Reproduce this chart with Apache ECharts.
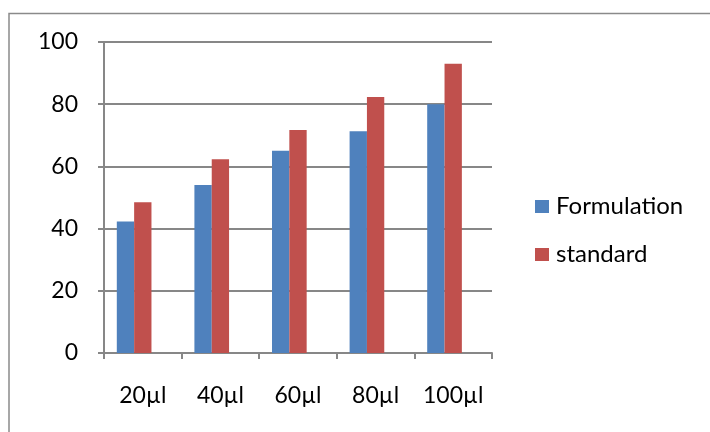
<!DOCTYPE html>
<html>
<head>
<meta charset="utf-8">
<script src="https://cdn.jsdelivr.net/npm/echarts@6/dist/echarts.min.js"></script>
<style>
  html, body { margin: 0; padding: 0; background: #ffffff; }
  #chart { width: 710px; height: 432px; }
</style>
</head>
<body>
<div id="chart"></div>
<script>
// Sample volumes on the category axis
const categories = ['20µl', '40µl', '60µl', '80µl', '100µl'];
// Measured values per volume
const formulation = [42.3, 54.0, 65.0, 71.3, 80.0];
const standard = [48.5, 62.3, 71.7, 82.3, 93.0];
// Value axis range and step
const yMin = 0;
const yMax = 100;
const yStep = 20;

const gridColor = '#878787';
const font = 'Lato, "Open Sans", sans-serif';

const chart = echarts.init(document.getElementById('chart'), null, { renderer: 'canvas' });

chart.setOption({
  animation: false,
  backgroundColor: '#ffffff',
  textStyle: { fontFamily: font },
  graphic: [{
    type: 'rect',
    shape: { x: 9, y: 13.5, width: 720, height: 440 },
    style: { fill: 'none', stroke: '#8a8a8a', lineWidth: 1.5 },
    silent: true,
    z: -1
  }],
  grid: { left: 104, top: 42, right: 218, bottom: 79, containLabel: false },
  legend: {
    data: ['Formulation', 'standard'],
    orient: 'vertical',
    left: 530,
    top: 189,
    icon: 'rect',
    itemWidth: 14,
    itemHeight: 13,
    itemGap: 23,
    textStyle: { fontFamily: font, fontSize: 24, color: '#000000', lineHeight: 25, padding: [0, 0, 0, 2] }
  },
  xAxis: {
    type: 'category',
    data: categories,
    axisLine: { lineStyle: { color: gridColor, width: 2 } },
    axisTick: { show: true, interval: 0, length: 6, alignWithLabel: false, lineStyle: { color: gridColor, width: 2 } },
    axisLabel: { interval: 0, hideOverlap: false, color: '#000000', fontFamily: font, fontSize: 23, margin: 31 },
    splitLine: { show: false }
  },
  yAxis: {
    type: 'value',
    min: yMin,
    max: yMax,
    interval: yStep,
    axisLine: { show: true, lineStyle: { color: gridColor, width: 2 } },
    axisTick: { show: true, length: 6, lineStyle: { color: gridColor, width: 2 } },
    axisLabel: { color: '#000000', fontFamily: font, fontSize: 23, margin: 26 },
    splitLine: { show: true, lineStyle: { color: gridColor, width: 2 } }
  },
  series: [
    {
      name: 'Formulation',
      type: 'bar',
      data: formulation,
      barGap: '0%',
      barCategoryGap: '33%',
      itemStyle: { color: '#4F81BD' }
    },
    {
      name: 'standard',
      type: 'bar',
      data: standard,
      itemStyle: { color: '#C0504D' }
    },
    {
      // empty third slot: keeps the pair left of the category centre
      name: 'slot',
      type: 'bar',
      data: [],
      itemStyle: { color: '#ffffff' }
    }
  ]
});
</script>
</body>
</html>
